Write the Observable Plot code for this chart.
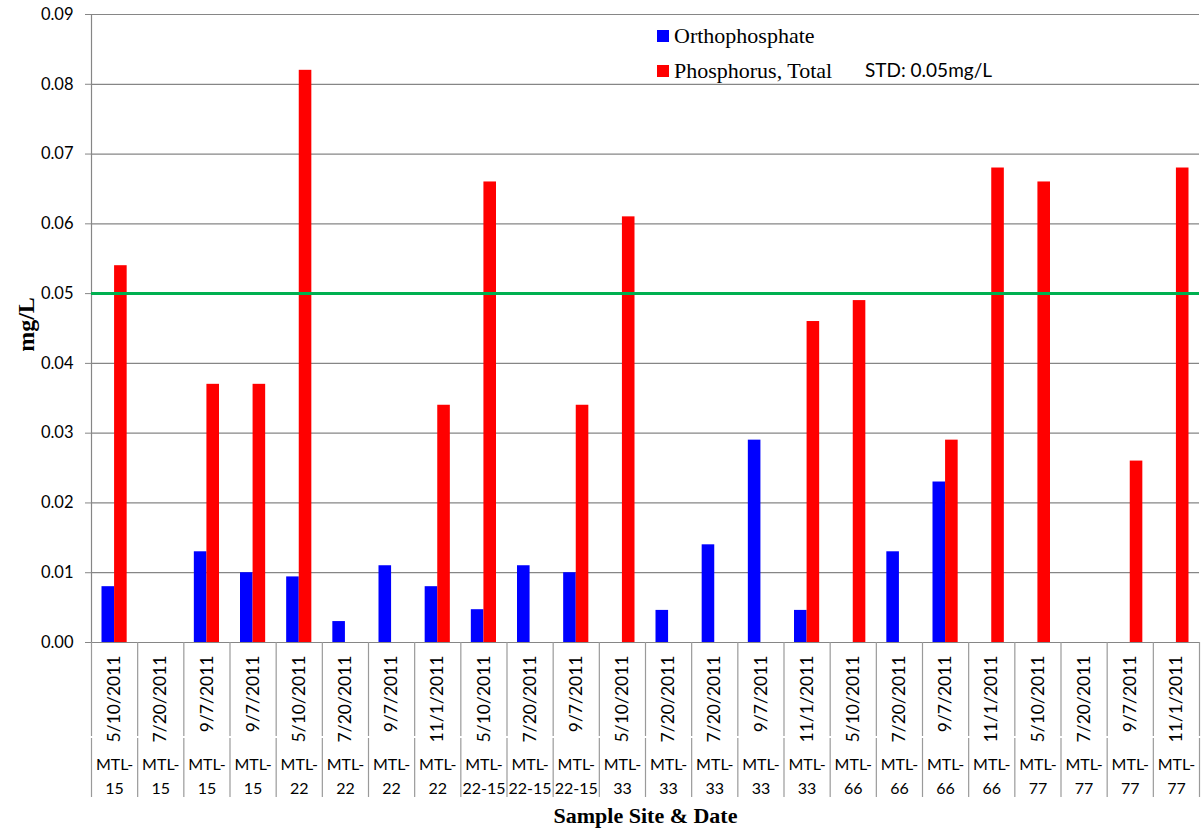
<!DOCTYPE html>
<html>
<head>
<meta charset="utf-8">
<script src="https://cdn.jsdelivr.net/npm/d3@7"></script>
<script src="https://cdn.jsdelivr.net/npm/@observablehq/plot@0.6"></script>
<style>
  html, body { margin: 0; padding: 0; background: #fff; }
  #wrap { position: relative; width: 1203px; height: 830px; }
  .leg { position: absolute; font-family: "Liberation Serif", "Times New Roman", serif; font-size: 22px; color: #000; white-space: nowrap; line-height: 1; }
  .sw { position: absolute; width: 12px; height: 12px; }
  .std { position: absolute; font-family: Lato, sans-serif; font-size: 19px; color: #000; white-space: nowrap; line-height: 1; }
</style>
</head>
<body>
<div id="wrap"></div>
<script>
// ---- data ----
const dates = ["5/10/2011","7/20/2011","9/7/2011","9/7/2011","5/10/2011","7/20/2011","9/7/2011","11/1/2011",
  "5/10/2011","7/20/2011","9/7/2011","5/10/2011","7/20/2011","7/20/2011","9/7/2011","11/1/2011",
  "5/10/2011","7/20/2011","9/7/2011","11/1/2011","5/10/2011","7/20/2011","9/7/2011","11/1/2011"];
const sites = ["MTL-15","MTL-15","MTL-15","MTL-15","MTL-22","MTL-22","MTL-22","MTL-22",
  "MTL-22-15","MTL-22-15","MTL-22-15","MTL-33","MTL-33","MTL-33","MTL-33","MTL-33",
  "MTL-66","MTL-66","MTL-66","MTL-66","MTL-77","MTL-77","MTL-77","MTL-77"];
const orthophosphate = [0.008,null,0.013,0.010,0.0094,0.003,0.011,0.008,0.0047,0.011,0.010,null,
  0.0046,0.014,0.029,0.0046,null,0.013,0.023,null,null,null,null,null];
const phosphorusTotal = [0.054,null,0.037,0.037,0.082,null,null,0.034,0.066,null,0.034,0.061,
  null,null,null,0.046,0.049,null,0.029,0.068,0.066,null,0.026,0.068];
const seriesNames = ["Orthophosphate","Phosphorus, Total"];
const seriesColors = ["#0000ff","#ff0000"];
const stdValue = 0.05;
const stdLabel = "STD: 0.05mg/L";
const yTicks = [0,0.01,0.02,0.03,0.04,0.05,0.06,0.07,0.08,0.09];
const yLabel = "mg/L";
const xLabel = "Sample Site & Date";

// ---- layout ----
const W = 1203, H = 830;
const mL = 91, mR = 4, mT = 14, mB = 188;
const n = dates.length;
const band = (W - mL - mR) / n;
const edge = 10.5;

const rows = dates.map((d, i) => ({
  i, i1: i + 1, mid: i + 0.5, date: d,
  site: sites[i].replace("-", "-\n"),
  ortho: orthophosphate[i], tp: phosphorusTotal[i]
}));
const dividers = d3.range(0, n + 1);

const chart = Plot.plot({
  width: W, height: H,
  marginLeft: mL, marginRight: mR, marginTop: mT, marginBottom: mB,
  style: {fontFamily: "Lato, sans-serif", fontSize: "16.5px", color: "#000", background: "#fff"},
  x: {type: "linear", domain: [0, n], axis: null},
  y: {domain: [0, 0.09], axis: null},
  marks: [
    Plot.gridY(yTicks, {stroke: "#868686", strokeOpacity: 1, strokeWidth: 1.2}),
    Plot.axisY(yTicks, {tickFormat: ".2f", tickSize: 6, tickPadding: 12, stroke: "#868686", fill: "#000", label: null, fontSize: 16.5}),
    Plot.ruleX([0], {stroke: "#868686", strokeWidth: 1.2}),
    // dividers below the axis (two rows)
    Plot.ruleX(dividers, {x: d => d, y1: 0, y2: 0, insetBottom: -94, stroke: "#9a9a9a", strokeWidth: 1.2}),
    Plot.ruleX(dividers, {x: d => d, y1: 0, y2: 0, insetTop: 96, insetBottom: -155, stroke: "#9a9a9a", strokeWidth: 1.2}),
    Plot.rectY(rows.filter(d => d.ortho != null), {x1: "i", x2: "i1", y: "ortho", fill: seriesColors[0], insetLeft: edge, insetRight: band / 2}),
    Plot.rectY(rows.filter(d => d.tp != null), {x1: "i", x2: "i1", y: "tp", fill: seriesColors[1], insetLeft: band / 2, insetRight: edge}),
    Plot.ruleY([stdValue], {stroke: "#00b050", strokeWidth: 3}),
    // date labels
    Plot.text(rows, {x: "mid", y: () => 0, text: "date", rotate: -90, textAnchor: "end", dy: 13, fontSize: 17.5, fill: "#000"}),
    // site labels
    Plot.text(rows, {x: "mid", y: () => 0, text: "site", dy: 132, lineHeight: 1.45, fontSize: 16, fill: "#000"}),
    // axis titles
    Plot.text([yLabel], {frameAnchor: "left", textAnchor: "middle", lineAnchor: "middle", dx: -65, dy: -4, rotate: -90, fontFamily: "Liberation Serif, serif", fontWeight: "bold", fontSize: 24, fill: "#000"}),
    Plot.text([xLabel], {frameAnchor: "bottom", lineAnchor: "middle", dy: 173, fontFamily: "Liberation Serif, serif", fontWeight: "bold", fontSize: 22, fill: "#000"})
  ]
});

const wrap = document.getElementById("wrap");
wrap.appendChild(chart);

// legend overlay (inside plot area, top)
const legendPos = [{sx: 657, sy: 30, tx: 674, ty: 25}, {sx: 657, sy: 65, tx: 674, ty: 60}];
seriesNames.forEach((name, k) => {
  const p = legendPos[k];
  const sw = document.createElement("div");
  sw.className = "sw";
  sw.style.left = p.sx + "px"; sw.style.top = p.sy + "px";
  sw.style.background = seriesColors[k];
  wrap.appendChild(sw);
  const t = document.createElement("div");
  t.className = "leg";
  t.style.left = p.tx + "px"; t.style.top = p.ty + "px";
  t.textContent = name;
  wrap.appendChild(t);
});
const std = document.createElement("div");
std.className = "std";
std.style.left = "865px"; std.style.top = "60px";
std.textContent = stdLabel;
wrap.appendChild(std);
</script>
</body>
</html>
